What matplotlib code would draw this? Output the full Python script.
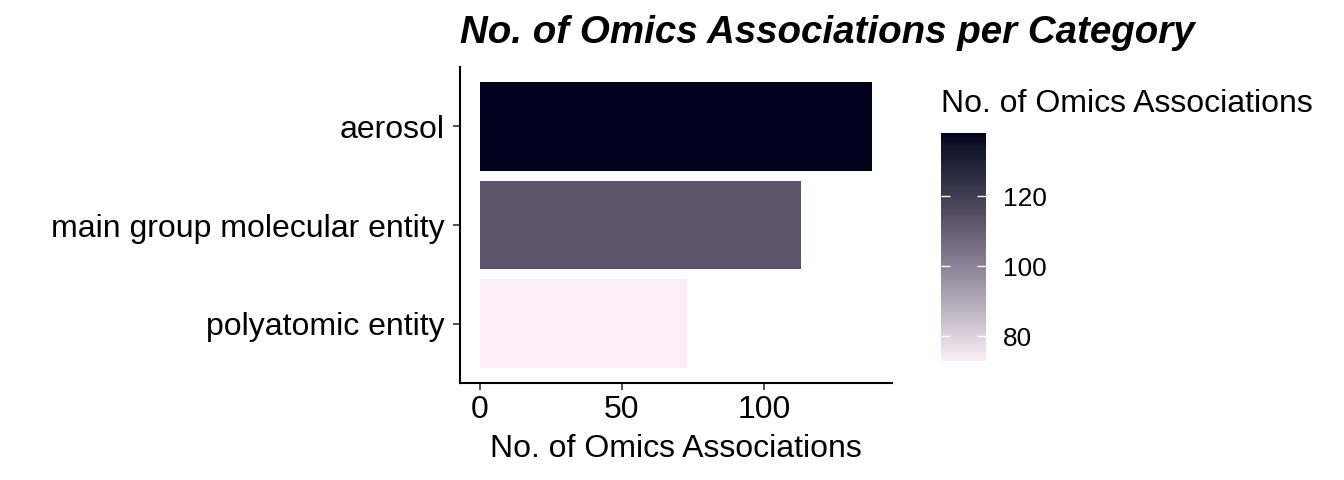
import numpy as np
import matplotlib
matplotlib.use("Agg")
import matplotlib.pyplot as plt
from matplotlib.colors import ListedColormap, Normalize
from matplotlib.cm import ScalarMappable

categories = ["aerosol", "main group molecular entity", "polyatomic entity"]
counts = [138, 113, 73]
cbar_ticks = [80, 100, 120]
low_color = "#FBEEF7"
high_color = "#03001E"
title = "No. of Omics Associations per Category"
xlabel = "No. of Omics Associations"
legend_title = "No. of Omics Associations"

plt.rcParams['font.family'] = ['Liberation Sans', 'DejaVu Sans']


def hex2rgb(h):
    h = h.lstrip('#')
    return np.array([int(h[i:i + 2], 16) / 255 for i in (0, 2, 4)])


def srgb2lin(c):
    return np.where(c <= 0.04045, c / 12.92, ((c + 0.055) / 1.055) ** 2.4)


def lin2srgb(c):
    c = np.clip(c, 0, 1)
    return np.where(c <= 0.0031308, c * 12.92, 1.055 * c ** (1 / 2.4) - 0.055)


M = np.array([[0.4124, 0.3576, 0.1805], [0.2126, 0.7152, 0.0722], [0.0193, 0.1192, 0.9505]])
Minv = np.linalg.inv(M)
WP = M @ np.ones(3)


def f(t):
    d = 6 / 29
    return np.where(t > d ** 3, np.cbrt(t), t / (3 * d * d) + 4 / 29)


def finv(t):
    d = 6 / 29
    return np.where(t > d, t ** 3, 3 * d * d * (t - 4 / 29))


def rgb2lab(rgb):
    xyz = M @ srgb2lin(rgb) / WP
    fx, fy, fz = f(xyz)
    return np.array([116 * fy - 16, 500 * (fx - fy), 200 * (fy - fz)])


def lab2rgb(lab):
    L, a, b = lab
    fy = (L + 16) / 116
    fx = fy + a / 500
    fz = fy - b / 200
    xyz = np.array([finv(fx), finv(fy), finv(fz)]) * WP
    return lin2srgb(Minv @ xyz)


lab_lo = rgb2lab(hex2rgb(low_color))
lab_hi = rgb2lab(hex2rgb(high_color))
cols = [lab2rgb(lab_lo + (lab_hi - lab_lo) * t) for t in np.linspace(0, 1, 256)]
cmap = ListedColormap(cols)
norm = Normalize(vmin=min(counts), vmax=max(counts))

W, H = 1344, 480
fig = plt.figure(figsize=(W / 100, H / 100), dpi=100)
ax = fig.add_axes([460 / W, 1 - 383 / H, (892 - 460) / W, (383 - 67) / H])

ypos = np.arange(len(categories))[::-1]
ax.barh(ypos, counts, height=0.9, color=[cmap(norm(v)) for v in counts])
ax.set_yticks(ypos)
ax.set_yticklabels(categories)
rng = max(counts)
ax.set_xlim(-0.05 * rng, rng * 1.05)
ax.set_ylim(-0.6, len(categories) - 0.4)
ax.set_xticks([0, 50, 100])
ax.set_xlabel(xlabel, fontsize=23, labelpad=6)
for s in ['top', 'right']:
    ax.spines[s].set_visible(False)
for s in ['left', 'bottom']:
    ax.spines[s].set_linewidth(1.5)
    ax.spines[s].set_color('black')
ax.tick_params(axis='both', labelsize=23, length=5, width=1.2, color='#333333', labelcolor='black')
ax.tick_params(axis='y', pad=6)
ax.tick_params(axis='x', pad=4)

fig.text(460 / W, 1 - 43 / H, title, fontsize=27.7, fontweight='bold', fontstyle='italic',
         ha='left', va='baseline')

cax = fig.add_axes([941 / W, 1 - 361 / H, 45 / W, (361 - 133) / H])
cb = fig.colorbar(ScalarMappable(norm=norm, cmap=cmap), cax=cax)
cb.outline.set_visible(False)
cb.set_ticks(cbar_ticks)
cax.tick_params(axis='y', which='major', direction='in', length=6.5, width=1, color='white',
                labelsize=18.9, pad=12, left=True, right=True, labelleft=False, labelright=True)
cax.tick_params(axis='y', which='minor', length=0)
fig.text(941 / W, 1 - 104 / H, legend_title, fontsize=23, ha='left', va='center')

fig.savefig("out.png", dpi=100, facecolor='white')
